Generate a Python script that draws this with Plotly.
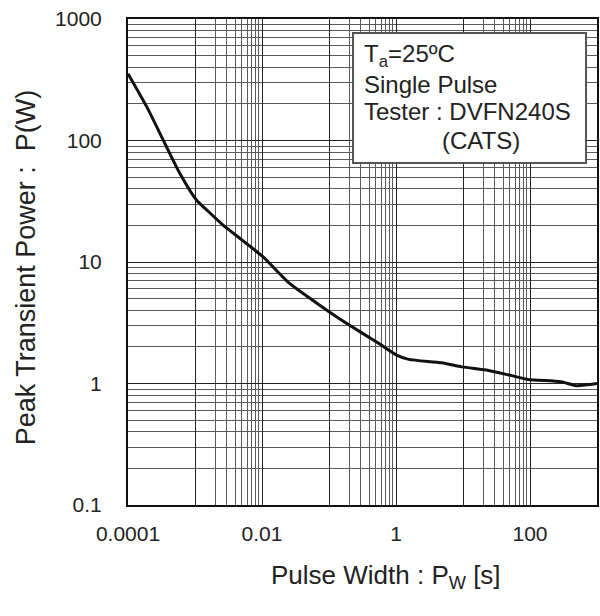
import plotly.graph_objects as go

# ---- data ----
pulse_width_s = [1e-4, 1.9e-4, 3.35e-4, 5.9e-4, 1.05e-3, 1.6e-3, 2.6e-3, 5e-3, 1.02e-2,
                 2.55e-2, 5e-2, 0.1, 0.2, 0.55, 1.0, 1.55, 4.8, 9.6, 24, 47, 94, 290, 490, 1000]
peak_power_w = [355, 190, 101, 54, 32.4, 25.9, 20.2, 15.2, 11.1,
                6.7, 5.1, 3.9, 3.03, 2.14, 1.72, 1.58, 1.48, 1.37, 1.28, 1.18, 1.08, 1.035, 0.96, 1.0]

x_tick_vals = [1e-4, 1e-3, 1e-2, 1e-1, 1, 10, 100, 1000]
x_tick_text = ["0.0001", "", "0.01", "", "1", "", "100", ""]
y_tick_vals = [0.1, 1, 10, 100, 1000]
y_tick_text = ["0.1", "1", "10", "100", "1000"]
x_minor_decades = [1e-3, 1e-1, 10]
y_minor_decades = [0.1, 1, 10, 100]
minor_multipliers = [2, 3, 4, 5, 6, 7, 8, 9]

box_lines = ["T<sub>a</sub>=25ºC", "Single Pulse", "Tester : DVFN240S", "(CATS)"]

x_minor = [d * m for d in x_minor_decades for m in minor_multipliers]
y_minor = [d * m for d in y_minor_decades for m in minor_multipliers]

FONT = "Liberation Sans, Arial, Helvetica, sans-serif"
TXT = "#222222"

fig = go.Figure()
fig.add_trace(go.Scatter(
    x=pulse_width_s, y=peak_power_w, mode="lines",
    line=dict(color="#111111", width=3, shape="spline", smoothing=0.6),
    hoverinfo="skip", showlegend=False))

axis_common = dict(
    type="log", showline=True, linecolor="#111111", linewidth=2, mirror=True,
    ticks="", showgrid=True, gridcolor="#222222", gridwidth=1, zeroline=False,
    tickfont=dict(family=FONT, size=21, color=TXT),
)

fig.update_xaxes(**axis_common, range=[-4, 3], tickmode="array",
                 tickvals=x_tick_vals, ticktext=x_tick_text, ticklabelstandoff=9,
                 minor=dict(tickmode="array", tickvals=x_minor, showgrid=True,
                            gridcolor="#5a5a5a", gridwidth=1, ticks=""))
fig.update_yaxes(**axis_common, range=[-1, 3], tickmode="array",
                 tickvals=y_tick_vals, ticktext=y_tick_text, ticklabelstandoff=20,
                 minor=dict(tickmode="array", tickvals=y_minor, showgrid=True,
                            gridcolor="#5a5a5a", gridwidth=1, ticks=""))

# text box
fig.add_shape(type="rect", xref="paper", yref="paper",
              x0=0.4798, x1=0.9766, y0=0.7037, y1=0.9712,
              line=dict(color="#555555", width=2), fillcolor="white", layer="above")
line_x = [0.499, 0.499, 0.499, 0.666]
line_y = [0.9250, 0.8650, 0.8097, 0.7510]
for txt, lx, ly in zip(box_lines, line_x, line_y):
    fig.add_annotation(
        xref="paper", yref="paper", x=lx, y=ly, xanchor="left", yanchor="middle",
        text=txt, align="left", showarrow=False,
        font=dict(family=FONT, size=24, color=TXT))

# axis titles
fig.add_annotation(
    xref="paper", yref="paper", x=0.55, y=-0.148, xanchor="center", yanchor="middle",
    text="Pulse Width : P<sub>W</sub> [s]", showarrow=False,
    font=dict(family=FONT, size=26, color=TXT))
fig.add_annotation(
    xref="paper", yref="paper", x=-0.2187, y=0.49, xanchor="center", yanchor="middle",
    text="Peak Transient Power :  P(W)", textangle=-90, showarrow=False,
    font=dict(family=FONT, size=27, color=TXT))

fig.update_layout(
    width=600, height=616,
    margin=dict(l=128, r=1, t=19, b=111),
    paper_bgcolor="white", plot_bgcolor="white",
)

fig.write_html("out.html")
